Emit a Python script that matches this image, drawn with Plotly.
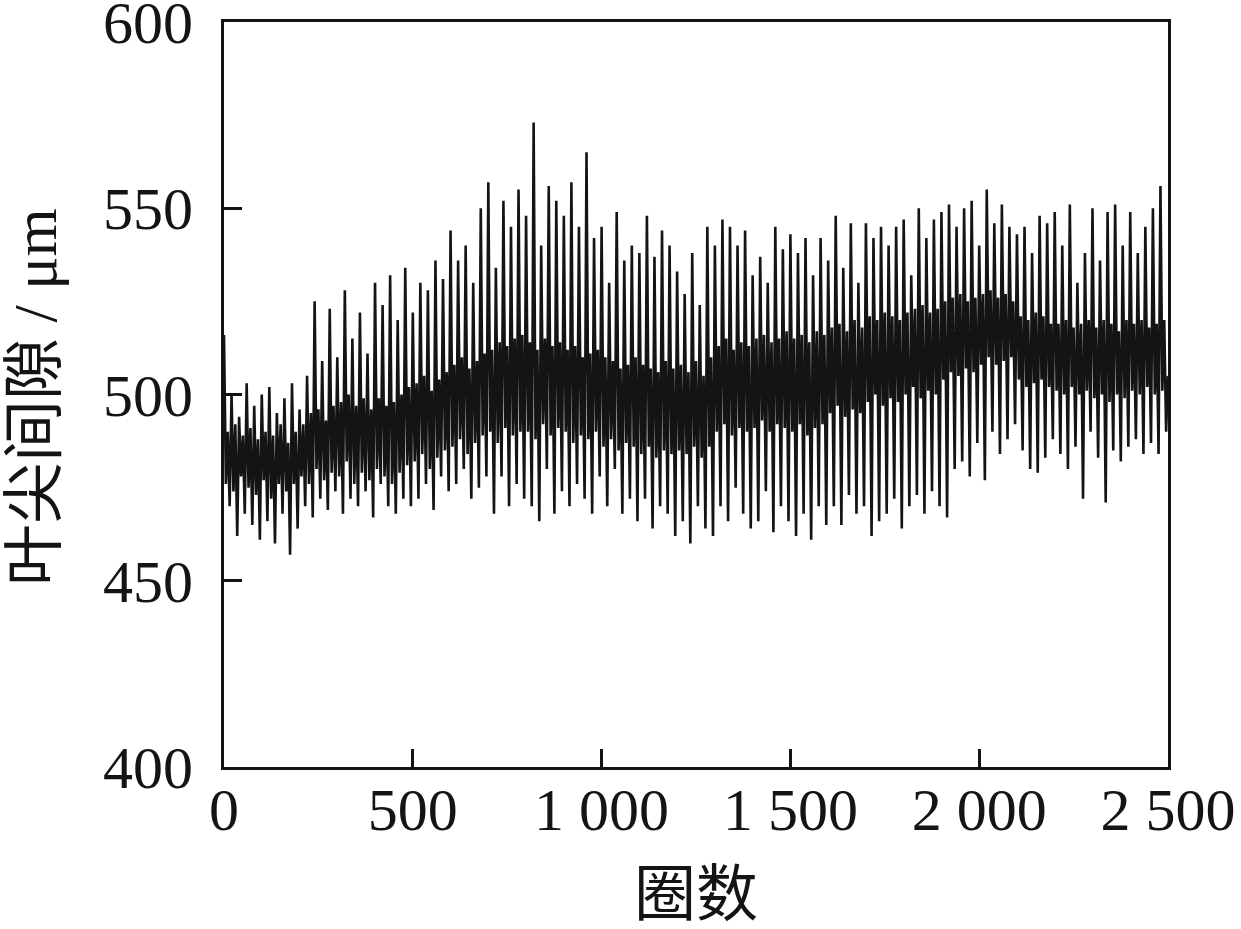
import numpy as np
import plotly.graph_objects as go

# Rounds (x) sampled every 5 rounds, 0..2500
rounds_start = 0
rounds_end = 2500
rounds_step = 5

# Tip clearance (um), blocks of 100 rounds
clearance = [
    # 0-95
    516,476,490,470, 500,474,492,462, 494,478,489,468, 503,475,491,465, 497,473,488,461,
    # 100-195
    500,477,490,466, 502,472,489,460, 495,476,492,468, 499,474,487,457, 503,476,490,464,
    # 200-295
    496,478,492,470, 505,476,495,467, 525,480,496,472, 509,477,493,469, 523,479,497,474,
    # 300-395
    510,478,498,468, 528,482,500,472, 515,476,497,470, 522,479,499,474, 511,477,496,467,
    # 400-495
    530,480,499,476, 524,478,497,470, 532,476,498,468, 520,479,500,472, 534,481,502,470,
    # 500-595
    522,482,503,472, 530,484,505,476, 528,480,501,469, 536,483,504,478, 531,485,506,474,
    # 600-695
    544,486,508,476, 536,488,510,480, 540,484,507,472, 530,487,509,475, 550,489,511,478,
    # 700-795
    557,490,512,468, 534,487,514,478, 552,491,513,470, 545,489,515,476, 555,490,516,472,
    # 800-895
    548,490,514,470, 573,488,512,466, 540,492,515,480, 556,489,513,468, 552,491,514,474,
    # 900-995
    548,490,512,470, 557,487,513,476, 545,489,510,472, 565,488,511,468, 542,490,512,478,
    # 1000-1095
    545,486,510,470, 530,488,509,480, 549,485,507,468, 536,487,508,472, 540,486,510,466,
    # 1100-1195
    538,484,508,472, 548,486,507,464, 537,483,506,470, 544,485,509,468, 540,484,507,462,
    # 1200-1295
    533,485,508,466, 527,484,506,460, 538,486,509,470, 524,483,505,464, 545,486,510,462,
    # 1300-1395
    540,490,513,470, 547,492,515,466, 545,489,512,475, 540,491,514,468, 544,490,513,464,
    # 1400-1495
    532,491,515,466, 537,493,516,474, 530,490,514,463, 545,492,515,470, 539,491,517,466,
    # 1500-1595
    543,490,515,462, 538,492,516,468, 542,489,514,461, 532,491,517,470, 542,492,516,465,
    # 1600-1695
    536,495,518,470, 548,497,519,465, 534,494,517,473, 546,496,520,468, 530,495,518,470,
    # 1700-1795
    546,498,521,462, 542,500,520,466, 545,497,522,468, 540,499,521,472, 545,498,520,464,
    # 1800-1895
    547,500,522,470, 532,502,523,473, 550,499,524,468, 542,501,522,474, 547,500,523,470,
    # 1900-1995
    549,504,525,467, 551,506,526,480, 545,505,527,482, 550,507,525,478, 552,506,526,487,
    # 2000-2095
    540,508,527,477, 555,510,528,490, 546,508,526,484, 551,509,527,488, 545,510,525,492,
    # 2100-2195
    543,504,521,485, 545,502,520,480, 538,503,522,479, 548,504,521,483, 546,502,519,488,
    # 2200-2295
    549,501,519,484, 540,500,520,480, 551,502,518,486, 530,500,519,472, 538,501,520,490,
    # 2300-2395
    550,499,518,483, 536,500,520,471, 549,498,519,485, 551,500,517,482, 540,499,520,486,
    # 2400-2495
    549,501,519,488, 538,500,520,484, 545,502,518,487, 550,500,519,484, 556,501,520,490,
    # 2500
    505,
]

x_tick_vals = [0, 500, 1000, 1500, 2000, 2500]
x_tick_text = ["0", "500", "1 000", "1 500", "2 000", "2 500"]
y_tick_vals = [400, 450, 500, 550, 600]
y_tick_text = ["400", "450", "500", "550", "600"]

x_title = "圈数"
y_title = "叶尖间隙 / μm"

rounds = np.arange(rounds_start, rounds_end + 1, rounds_step)
assert len(rounds) == len(clearance)

FONT = "Liberation Serif, Noto Sans CJK SC, serif"
INK = "#161412"

fig = go.Figure()
fig.add_trace(go.Scatter(
    x=rounds, y=clearance, mode="lines",
    line=dict(color=INK, width=2.6),
    showlegend=False,
))

axis_common = dict(
    showline=True, linecolor=INK, linewidth=3, mirror=True,
    ticks="inside", ticklen=18, tickwidth=3, tickcolor=INK,
    showgrid=False, zeroline=False, automargin=False,
    ticklabeloverflow="allow",
    tickfont=dict(family=FONT, size=60, color=INK),
)

fig.update_layout(
    width=1241, height=929,
    margin=dict(l=224, r=73, t=22, b=162),
    paper_bgcolor="white", plot_bgcolor="white",
    xaxis=dict(range=[0, 2500], tickvals=x_tick_vals, ticktext=x_tick_text,
               ticklabelstandoff=-12, **axis_common),
    yaxis=dict(range=[400, 600], tickvals=y_tick_vals, ticktext=y_tick_text,
               ticklabelstandoff=16, **axis_common),
    annotations=[
        dict(text=x_title, xref="paper", yref="paper", x=0.5, y=-0.172,
             showarrow=False, xanchor="center", yanchor="middle",
             font=dict(family=FONT, size=62, color=INK)),
        dict(text=y_title, xref="paper", yref="paper", x=-0.2, y=0.497,
             showarrow=False, xanchor="center", yanchor="middle", textangle=-90,
             font=dict(family=FONT, size=62, color=INK)),
    ],
)

fig.write_html("out.html", config={"displayModeBar": False},
               post_script="document.body.style.margin='0';")
